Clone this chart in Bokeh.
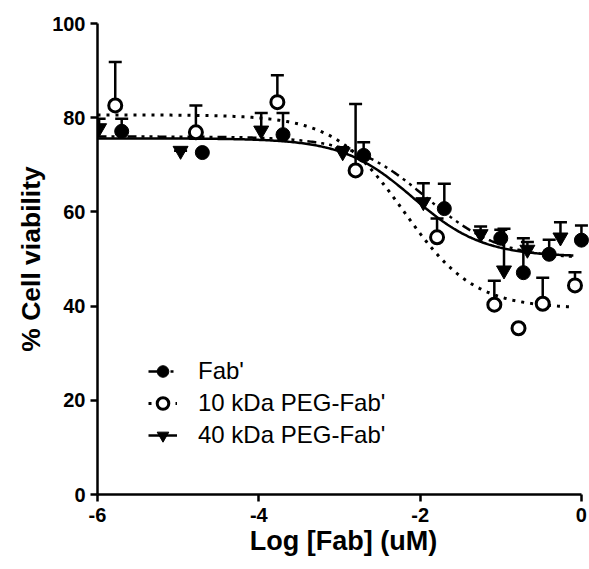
import numpy as np
from bokeh.plotting import figure
from bokeh.models import (Range1d, Whisker, TeeHead, ColumnDataSource, Legend,
                          LegendItem, FixedTicker)
from bokeh.embed import file_html
from bokeh.resources import INLINE

# ---- data ----
fab_x = [-5.70, -4.70, -3.70, -2.70, -1.70, -1.00, -0.72, -0.40, 0.00]
fab_y = [77.1, 72.6, 76.4, 72.0, 60.7, 54.4, 47.1, 51.0, 54.0]
fab_err = [2.7, 0.0, 4.6, 2.8, 5.3, 1.8, 7.3, 3.1, 3.1]

peg10_x = [-5.78, -4.78, -3.77, -2.80, -1.79, -1.08, -0.78, -0.48, -0.08]
peg10_y = [82.6, 76.9, 83.3, 68.8, 54.6, 40.3, 35.3, 40.5, 44.4]
peg10_err = [9.2, 5.7, 5.7, 14.1, 4.0, 5.1, 0.0, 5.5, 2.8]

peg40_x = [-5.98, -4.97, -3.97, -2.96, -1.96, -1.25, -0.96, -0.67, -0.26]
peg40_y = [77.8, 73.0, 77.3, 72.7, 62.1, 55.3, 47.6, 52.0, 54.6]
peg40_err = [2.0, 0.0, 3.7, 1.0, 4.0, 1.6, 8.8, 1.6, 3.2]

# fitted 4-parameter logistic curves: top, bottom, logIC50, hill
fab_fit = (76.0, 50.0, -1.92, 0.95)
peg10_fit = (80.6, 39.5, -2.20, 1.00)
peg40_fit = (75.6, 50.5, -2.09, 1.00)
fit_range = (-6.0, -0.1)

x_ticks = [-6, -4, -2, 0]
x_tick_labels = ["-6", "-4", "-2", "0"]
y_ticks = [0, 20, 40, 60, 80, 100]
labels = ["Fab'", "10 kDa PEG-Fab'", "40 kDa PEG-Fab'"]

FONT = "Liberation Sans"


def fit_curve(params):
    top, bottom, c, h = params
    xs = np.linspace(fit_range[0], fit_range[1], 300)
    ys = bottom + (top - bottom) / (1.0 + 10 ** ((xs - c) * h))
    return xs, ys


p = figure(width=589, height=569, output_backend="svg", toolbar_location=None,
           x_range=Range1d(-6, 0.1), y_range=Range1d(0, 100),
           min_border_left=97, min_border_right=0, min_border_top=23,
           min_border_bottom=75)
p.outline_line_color = None
p.xgrid.visible = False
p.ygrid.visible = False
p.background_fill_color = "white"

# error bars (upper only)
for xs, ys, es in [(fab_x, fab_y, fab_err), (peg10_x, peg10_y, peg10_err),
                   (peg40_x, peg40_y, peg40_err)]:
    src = ColumnDataSource(dict(x=xs, y=ys, up=[a + b for a, b in zip(ys, es)]))
    w = Whisker(source=src, base="x", lower="y", upper="up",
                upper_head=TeeHead(size=13, line_width=2.5, line_color="black"),
                lower_head=None, line_width=2.5, line_color="black",
                level="underlay")
    p.add_layout(w)

# fitted curves
fx, fy = fit_curve(fab_fit)
l_fab = p.line(fx, fy, line_color="black", line_width=2.5, line_dash="9 5 3 5 3 5")
fx, fy = fit_curve(peg10_fit)
l_10 = p.line(fx, fy, line_color="black", line_width=3, line_dash="3 6")
fx, fy = fit_curve(peg40_fit)
l_40 = p.line(fx, fy, line_color="black", line_width=2.5)

# markers
s_fab = p.scatter(fab_x, fab_y, marker="circle", size=14, fill_color="black",
                  line_color="black")
s_10 = p.scatter(peg10_x, peg10_y, marker="circle", size=13, fill_color="white",
                 line_color="black", line_width=3)
s_40 = p.scatter(peg40_x, peg40_y, marker="inverted_triangle", size=15,
                 fill_color="black", line_color="black")

legend = Legend(items=[LegendItem(label=labels[0], renderers=[l_fab, s_fab]),
                       LegendItem(label=labels[1], renderers=[l_10, s_10]),
                       LegendItem(label=labels[2], renderers=[l_40, s_40])],
                location=(51, 43), border_line_color=None,
                background_fill_alpha=0, padding=0, margin=0, spacing=0,
                glyph_width=29, glyph_height=32, label_height=32,
                label_standoff=21, label_text_font=FONT,
                label_text_font_size="24px", label_text_color="black")
p.add_layout(legend)

for ax in (p.xaxis[0], p.yaxis[0]):
    ax.axis_line_width = 2.5
    ax.axis_line_color = "black"
    ax.major_tick_line_width = 2.5
    ax.major_tick_line_color = "black"
    ax.major_tick_out = 7
    ax.major_tick_in = 0
    ax.minor_tick_out = 0
    ax.minor_tick_in = 0
    ax.major_label_text_font = FONT
    ax.major_label_text_font_style = "bold"
    ax.major_label_text_font_size = "20px"
    ax.major_label_text_color = "black"
    ax.axis_label_text_font = FONT
    ax.axis_label_text_font_style = "bold"
    ax.axis_label_text_color = "black"

p.xaxis[0].ticker = FixedTicker(ticks=x_ticks)
p.xaxis[0].major_label_overrides = {t: s for t, s in zip(x_ticks, x_tick_labels)}
p.xaxis[0].bounds = (-6, 0)
p.xaxis[0].axis_label = "Log [Fab] (uM)"
p.xaxis[0].axis_label_text_font_size = "27px"
p.xaxis[0].major_label_standoff = 6
p.xaxis[0].axis_label_standoff = 1

p.yaxis[0].ticker = FixedTicker(ticks=y_ticks)
p.yaxis[0].axis_label = "% Cell viability"
p.yaxis[0].axis_label_text_font_size = "26.5px"
p.yaxis[0].major_label_standoff = 5
p.yaxis[0].axis_label_standoff = 3

open("out.html", "w").write(file_html(p, INLINE))
